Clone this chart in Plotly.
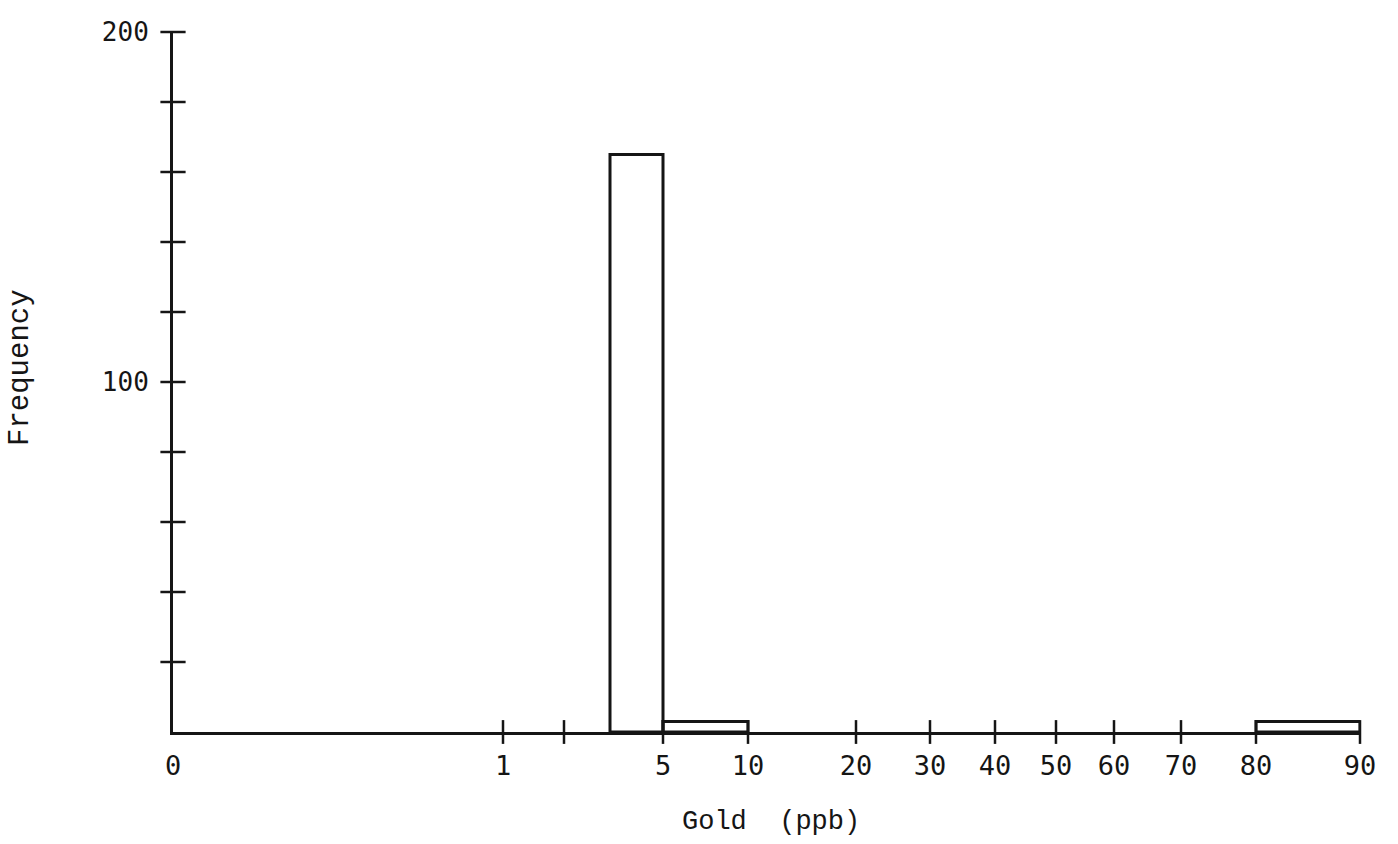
import plotly.graph_objects as go

# ---- data ----
# x axis is a hand-drawn, non-uniform scale: positions along the drawn axis (scale units)
x_tick_labels = ["0", "1", "", "5", "10", "20", "30", "40", "50", "60", "70", "80", "90"]
x_tick_pos = [0.0, 33.0, 39.1, 49.0, 57.5, 68.3, 75.7, 82.2, 88.3, 94.1, 100.8, 108.3, 118.7]

# histogram bins (edges expressed on the same drawn scale) and frequencies
bin_lower = [43.7, 49.0, 108.3]
bin_upper = [49.0, 57.5, 118.7]
frequency = [165, 3, 3]

y_tick_vals = [0, 20, 40, 60, 80, 100, 120, 140, 160, 180, 200]
y_tick_labels = ["", "", "", "", "", "100", "", "", "", "", "200"]

INK = "#151515"
FONT_TICK = "DejaVu Sans Mono"
FONT_TITLE = "Liberation Mono, Courier New, Nimbus Mono PS, monospace"

centers = [(a + b) / 2 for a, b in zip(bin_lower, bin_upper)]
widths = [b - a for a, b in zip(bin_lower, bin_upper)]

fig = go.Figure()

fig.add_trace(go.Bar(
    x=centers, y=frequency, width=widths,
    marker=dict(color="rgba(0,0,0,0)", line=dict(color=INK, width=3)),
    hoverinfo="x+y", showlegend=False,
))

# crossing tick marks on the x axis
fig.add_trace(go.Scatter(
    x=[p for p in x_tick_pos if p > 0], y=[0] * (len(x_tick_pos) - 1),
    mode="markers", cliponaxis=False, showlegend=False, hoverinfo="skip",
    marker=dict(symbol="line-ns", size=17, line=dict(color=INK, width=2.5)),
))
# crossing tick marks on the y axis
fig.add_trace(go.Scatter(
    x=[0] * (len(y_tick_vals) - 1), y=y_tick_vals[1:],
    mode="markers", cliponaxis=False, showlegend=False, hoverinfo="skip",
    marker=dict(symbol="line-ew", size=18, line=dict(color=INK, width=2.5)),
))

fig.update_layout(
    width=1398, height=844,
    margin=dict(l=173, r=38, t=32, b=112),
    paper_bgcolor="white", plot_bgcolor="white",
    showlegend=False,
    xaxis=dict(
        range=[0, 118.7], showgrid=False, zeroline=False,
        showline=True, linecolor=INK, linewidth=3,
        tickmode="array", tickvals=x_tick_pos, ticktext=x_tick_labels,
        ticks="", ticklabelstandoff=8,
        tickfont=dict(family=FONT_TICK, size=27, color=INK),
    ),
    yaxis=dict(
        range=[0, 200], showgrid=False, zeroline=False,
        showline=True, linecolor=INK, linewidth=3,
        tickmode="array", tickvals=y_tick_vals, ticktext=y_tick_labels,
        ticks="", ticklabelstandoff=16,
        tickfont=dict(family=FONT_TICK, size=26, color=INK),
    ),
    annotations=[
        dict(text="Gold  (ppb)", xref="paper", yref="paper",
             x=(771 - 173) / 1187, y=-(822 - 732) / 700,
             xanchor="center", yanchor="middle", showarrow=False,
             font=dict(family=FONT_TITLE, size=27, color=INK)),
        dict(text="Frequency", xref="paper", yref="paper",
             x=(20 - 173) / 1187, y=(732 - 368) / 700, textangle=-90,
             xanchor="center", yanchor="middle", showarrow=False,
             font=dict(family=FONT_TITLE, size=29, color=INK)),
    ],
)

fig.write_html("out.html")
